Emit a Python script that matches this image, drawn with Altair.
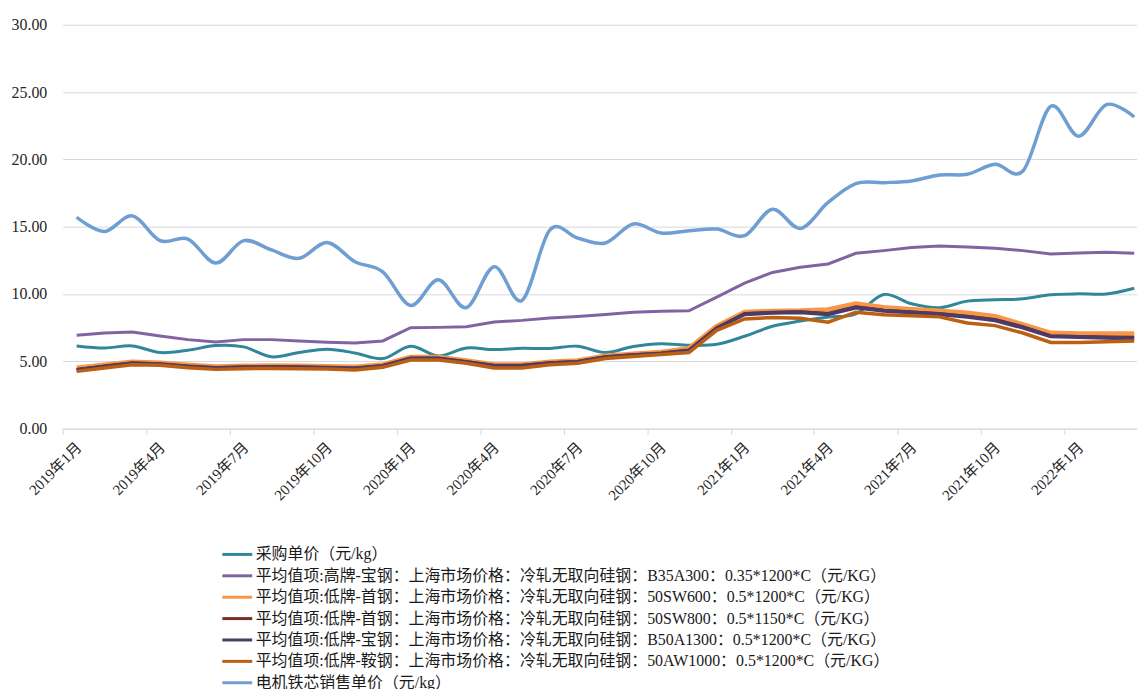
import json
import altair as alt
import pandas as pd

months = [
    "2019年1月", "2019年2月", "2019年3月", "2019年4月", "2019年5月", "2019年6月",
    "2019年7月", "2019年8月", "2019年9月", "2019年10月", "2019年11月", "2019年12月",
    "2020年1月", "2020年2月", "2020年3月", "2020年4月", "2020年5月", "2020年6月",
    "2020年7月", "2020年8月", "2020年9月", "2020年10月", "2020年11月", "2020年12月",
    "2021年1月", "2021年2月", "2021年3月", "2021年4月", "2021年5月", "2021年6月",
    "2021年7月", "2021年8月", "2021年9月", "2021年10月", "2021年11月", "2021年12月",
    "2022年1月", "2022年2月", "2022年3月",
]

series_names = [
    "采购单价（元/kg）",
    "平均值项:高牌-宝钢：上海市场价格：冷轧无取向硅钢：B35A300：0.35*1200*C（元/KG）",
    "平均值项:低牌-首钢：上海市场价格：冷轧无取向硅钢：50SW600：0.5*1200*C（元/KG）",
    "平均值项:低牌-首钢：上海市场价格：冷轧无取向硅钢：50SW800：0.5*1150*C（元/KG）",
    "平均值项:低牌-宝钢：上海市场价格：冷轧无取向硅钢：B50A1300：0.5*1200*C（元/KG）",
    "平均值项:低牌-鞍钢：上海市场价格：冷轧无取向硅钢：50AW1000：0.5*1200*C（元/KG）",
    "电机铁芯销售单价（元/kg）",
]

purchase = [6.14, 5.99, 6.14, 5.65, 5.82, 6.17, 6.07, 5.33, 5.65, 5.9, 5.62, 5.2, 6.12,
            5.4, 5.99, 5.87, 5.97, 5.95, 6.12, 5.65, 6.1, 6.31, 6.19, 6.26, 6.86, 7.6,
            7.99, 8.28, 8.53, 9.96, 9.27, 8.98, 9.47, 9.57, 9.64, 9.94, 10.01, 10.0, 10.43]
b35a300 = [6.93, 7.1, 7.18, 6.88, 6.61, 6.44, 6.61, 6.61, 6.51, 6.42, 6.36, 6.51, 7.5,
           7.52, 7.57, 7.92, 8.04, 8.21, 8.33, 8.48, 8.65, 8.72, 8.75, 9.77, 10.8, 11.6,
           11.98, 12.23, 13.02, 13.22, 13.46, 13.56, 13.49, 13.39, 13.22, 12.97, 13.05, 13.1, 13.02]
sw600 = [4.5, 4.72, 4.95, 4.88, 4.72, 4.6, 4.65, 4.67, 4.65, 4.62, 4.57, 4.75, 5.3,
         5.3, 5.05, 4.75, 4.75, 4.95, 5.05, 5.4, 5.55, 5.68, 5.95, 7.6, 8.65, 8.72,
         8.75, 8.83, 9.27, 9.0, 8.85, 8.73, 8.58, 8.34, 7.72, 7.1, 7.05, 7.05, 7.05]
sw800 = [4.4, 4.65, 4.88, 4.8, 4.63, 4.52, 4.57, 4.58, 4.57, 4.53, 4.5, 4.67, 5.22,
         5.22, 4.97, 4.7, 4.7, 4.9, 4.98, 5.33, 5.48, 5.6, 5.83, 7.5, 8.55, 8.63,
         8.68, 8.55, 9.05, 8.8, 8.66, 8.55, 8.35, 8.1, 7.58, 6.9, 6.85, 6.8, 6.78]
b50a1300 = [4.35, 4.6, 4.85, 4.78, 4.62, 4.5, 4.55, 4.57, 4.55, 4.52, 4.47, 4.65, 5.2,
            5.2, 4.95, 4.65, 4.65, 4.85, 4.95, 5.3, 5.45, 5.58, 5.8, 7.45, 8.5, 8.6,
            8.65, 8.5, 9.0, 8.75, 8.62, 8.5, 8.3, 8.05, 7.5, 6.85, 6.8, 6.75, 6.7]
aw1000 = [4.25, 4.5, 4.75, 4.7, 4.52, 4.4, 4.45, 4.47, 4.45, 4.42, 4.35, 4.55, 5.1,
          5.1, 4.85, 4.5, 4.5, 4.75, 4.85, 5.2, 5.35, 5.5, 5.65, 7.3, 8.15, 8.25,
          8.2, 7.9, 8.65, 8.45, 8.38, 8.3, 7.85, 7.65, 7.1, 6.4, 6.4, 6.45, 6.5]
core_price = [15.7, 14.64, 15.8, 13.96, 14.08, 12.3, 13.96, 13.27, 12.65, 13.83, 12.4, 11.65, 9.15,
              11.05, 8.98, 12.03, 9.52, 14.75, 14.16, 13.79, 15.2, 14.53, 14.7, 14.82, 14.33, 16.3,
              14.87, 16.8, 18.2, 18.27, 18.4, 18.84, 18.89, 19.63, 19.13, 23.94, 21.72, 24.07, 23.15]

series_values = [purchase, b35a300, sw600, sw800, b50a1300, aw1000, core_price]
colors = ["#31879A", "#8064A2", "#F79646", "#7A2C29", "#4B3B66", "#BC5F12", "#6F9ED2"]
widths = [3, 3, 5, 3, 4, 3.5, 3.5]
interps = ["cardinal", "linear", "linear", "linear", "linear", "linear", "cardinal"]

FONT = "Liberation Serif, Noto Sans CJK SC"

tick_vals = [i - 0.5 for i in range(0, 37, 3)]
label_expr = json.dumps(months, ensure_ascii=False) + "[round(datum.value + 0.5)]"

x_enc = alt.X(
    "idx:Q",
    scale=alt.Scale(domain=[-0.5, 38.1], nice=False, zero=False),
    axis=alt.Axis(
        values=tick_vals, labelExpr=label_expr, title=None, grid=False,
        domain=True, domainColor="#D9D9D9", ticks=True, tickColor="#D9D9D9",
        tickSize=6, labelAngle=315, labelAlign="right", labelBaseline="middle",
        labelOffset=16, labelPadding=10, labelFontSize=15, labelColor="#262626",
        labelFont=FONT, labelOverlap=False, labelFlush=False,
    ),
)
y_enc = alt.Y(
    "v:Q",
    scale=alt.Scale(domain=[0, 30], nice=False),
    axis=alt.Axis(
        values=[0, 5, 10, 15, 20, 25, 30], format=".2f", title=None, grid=True,
        gridColor="#D9D9D9", gridWidth=1, domain=False, ticks=False,
        labelPadding=16, labelFontSize=16, labelColor="#262626", labelFont=FONT,
    ),
)
color_scale = alt.Scale(domain=series_names, range=colors)
legend = alt.Legend(
    title=None, orient="none", legendX=165, legendY=522, direction="vertical",
    symbolType="M-1.667,0H1.667", symbolSize=324, symbolStrokeWidth=3,
    labelFontSize=16, labelFont=FONT, labelColor="#1a1a1a", labelLimit=2000,
    labelOffset=8, rowPadding=2.5, padding=0, offset=0,
)

layers = []
for name, vals, w, interp in zip(series_names, series_values, widths, interps):
    df = pd.DataFrame({"idx": list(range(len(months))), "v": vals, "s": name})
    layers.append(
        alt.Chart(df)
        .mark_line(strokeWidth=w, interpolate=interp)
        .encode(
            x=x_enc,
            y=y_enc,
            color=alt.Color("s:N", scale=color_scale, legend=legend),
        )
    )

chart = (
    alt.layer(*layers)
    .properties(
        width=1080,
        height=406,
        autosize=alt.AutoSizeParams(type="none"),
        padding={"left": 55, "top": 15, "right": 0, "bottom": 270},
        background="white",
    )
    .configure_view(stroke=None)
)

chart.save("out.html", embed_options={"renderer": "svg", "actions": False})
